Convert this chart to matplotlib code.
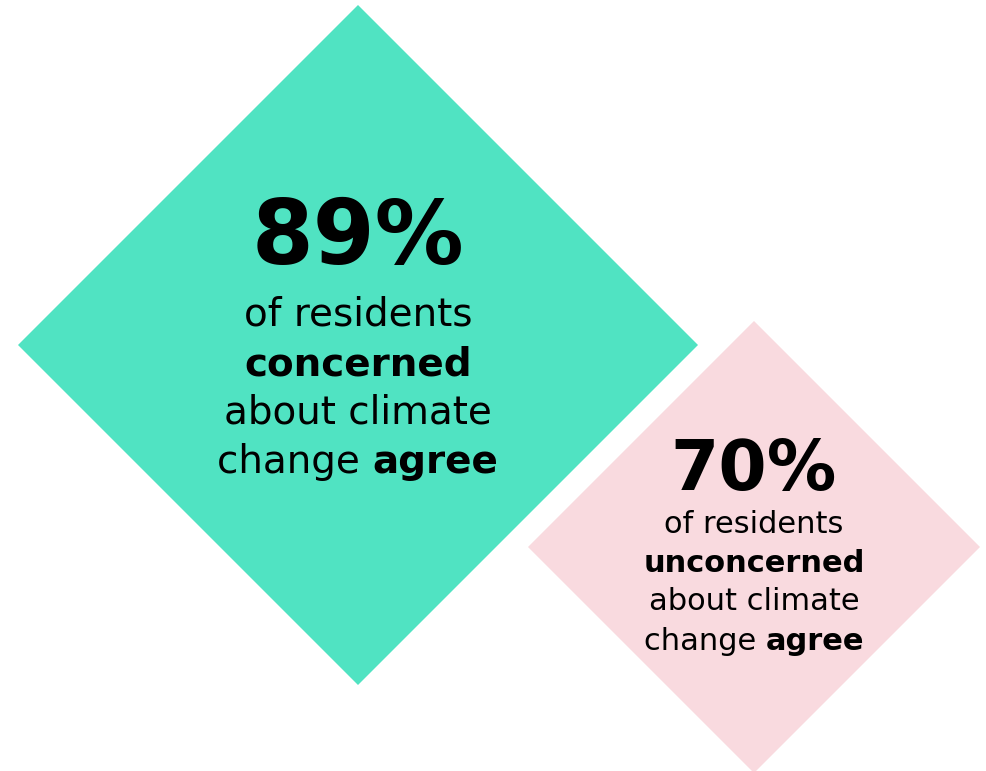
import matplotlib
matplotlib.use("Agg")
import matplotlib.pyplot as plt
from matplotlib.patches import Polygon

# survey figures shown in each diamond
percentages = [89, 70]
groups = ["concerned", "unconcerned"]
fill_colors = ["#50E3C2", "#F9DADF"]

# layout of each diamond, in pixels (center x, center y, half diagonal)
centers = [(358, 345), (754, 547)]
half_sizes = [340, 226]
headline_sizes = [64, 50]
body_sizes = [28, 22]
headline_baselines = [264, 490]
body_baselines = [[325, 375, 423, 473], [533, 572, 610, 650]]

W, H = 987, 771
fig = plt.figure(figsize=(W / 100, H / 100), dpi=100)
ax = fig.add_axes([0, 0, 1, 1])
ax.set_xlim(0, W)
ax.set_ylim(H, 0)
ax.axis("off")
renderer = fig.canvas.get_renderer()


def draw_line(parts, x_center, y, size):
    # parts: list of (text, bold); center the combined run on x_center
    texts = []
    for s, bold in parts:
        t = ax.text(0, y, s, fontsize=size, fontweight="bold" if bold else "normal",
                    ha="left", va="baseline", family="DejaVu Sans")
        texts.append(t)
    widths = [t.get_window_extent(renderer).width for t in texts]
    x = x_center - sum(widths) / 2
    for t, w in zip(texts, widths):
        t.set_x(x)
        x += w


for i in range(len(percentages)):
    cx, cy = centers[i]
    h = half_sizes[i]
    ax.add_patch(Polygon([(cx, cy - h), (cx + h, cy), (cx, cy + h), (cx - h, cy)],
                         closed=True, facecolor=fill_colors[i], edgecolor="none"))
    draw_line([(f"{percentages[i]}%", True)], cx, headline_baselines[i], headline_sizes[i])
    lines = [
        [("of residents", False)],
        [(groups[i], True)],
        [("about climate", False)],
        [("change ", False), ("agree", True)],
    ]
    for parts, yb in zip(lines, body_baselines[i]):
        draw_line(parts, cx, yb, body_sizes[i])

fig.savefig("out.png", dpi=100)
